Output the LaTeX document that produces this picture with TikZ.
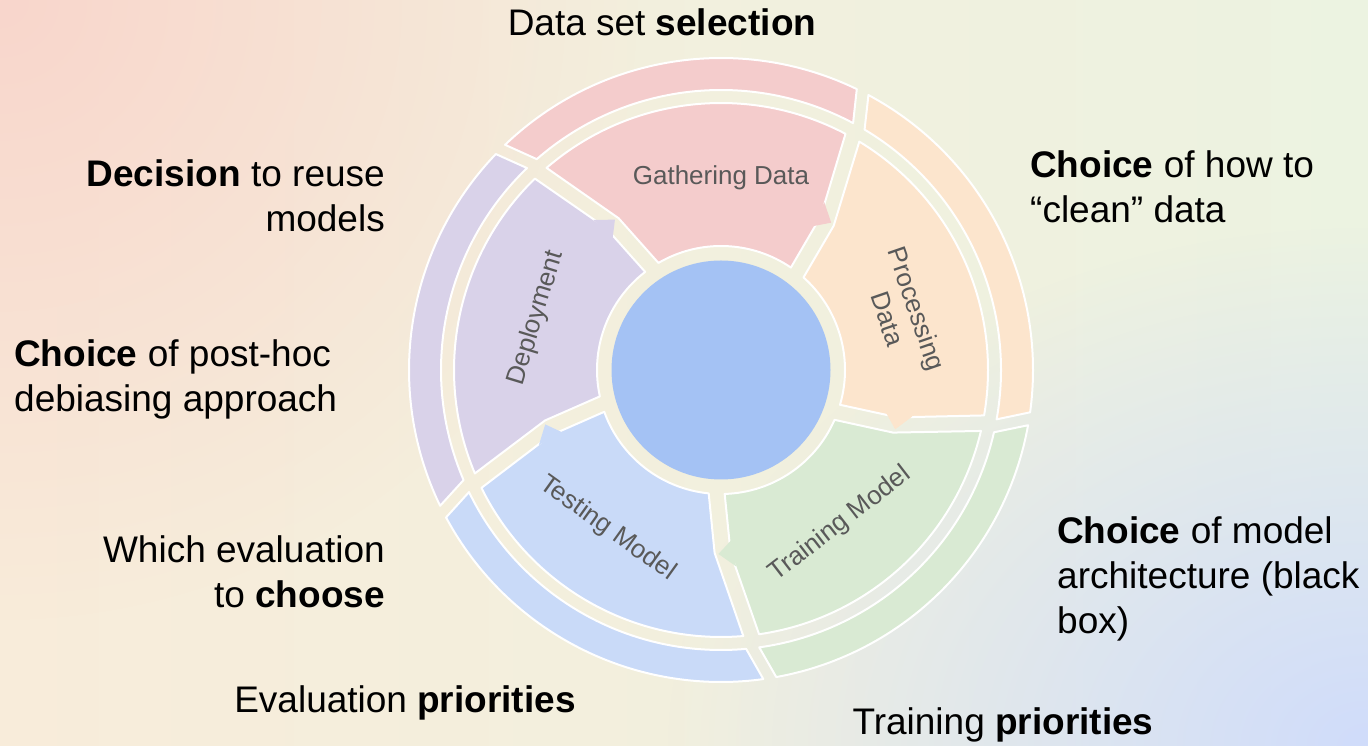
\documentclass[tikz,border=0pt]{standalone}
\usepackage{fontspec}
\setmainfont{Liberation Sans}
\usetikzlibrary{calc,fadings}

\definecolor{gatherC}{HTML}{F4CCCC}
\definecolor{processC}{HTML}{FCE5CD}
\definecolor{trainC}{HTML}{D9EAD3}
\definecolor{testC}{HTML}{C9DAF8}
\definecolor{deployC}{HTML}{D9D2E9}
\definecolor{hubC}{HTML}{A4C2F4}
\definecolor{labelC}{HTML}{595959}
% backdrop colours
\definecolor{bgL}{RGB}{248,236,218}
\definecolor{bgM}{RGB}{245,241,222}
\definecolor{bgR}{RGB}{236,243,225}
\definecolor{glowPink}{RGB}{249,214,204}
\definecolor{glowBlue}{RGB}{208,220,251}

\tikzfading[name=softglow, inner color=transparent!0, outer color=transparent!100]

% One stage of the cycle: inner wedge, arrow tab and outer band.
% #1 = angle of the gap at the clockwise end, #2 = fill colour
\newcommand{\cyclestage}[2]{%
  \pgfmathsetmacro{\ga}{#1}%
  \pgfmathsetmacro{\gb}{#1+72}%
  \fill[#2, draw=white, line width=2pt, line join=round]
    ({\gb-3.7}:124) arc[start angle={\gb-3.7}, end angle={\ga+3.7}, radius=124]
    -- ({\ga+5}:183) -- ({\ga+10.2}:267)
    arc[start angle={\ga+10.2}, end angle={\gb+6.8}, radius=267]
    -- ({\gb}:183) -- cycle;
  \fill[#2] ({\ga+5.3}:171) -- ({\ga+1.2}:184) -- ({\ga+6.4}:197) -- cycle;
  \fill[#2, draw=white, line width=2pt, line join=round]
    ({\gb+7.15}:280) arc[start angle={\gb+7.15}, end angle={\ga+9.85}, radius=280]
    -- ({\ga+12.2}:312)
    arc[start angle={\ga+12.2}, end angle={\gb+9.8}, radius=312] -- cycle;
}

\tikzset{
  stagelabel/.style={font=\fontsize{26}{31}\selectfont, text=labelC, inner sep=0pt, align=center},
  note/.style={font=\fontsize{37}{45}\selectfont, text=black, inner sep=0pt},
}

\begin{document}
\begin{tikzpicture}[x=1pt, y=1pt]
  \useasboundingbox (0,0) rectangle (1368,746);
  % soft backdrop: warm-to-green base with a pink and a blue corner glow
  \begin{scope}
    \clip (0,0) rectangle (1368,746);
    \shade[left color=bgL, middle color=bgM, right color=bgR] (0,0) rectangle (1368,746);
    \fill[glowPink, path fading=softglow] (0,746) ellipse[x radius=640, y radius=620];
    \fill[glowBlue, path fading=softglow] (1368,0) ellipse[x radius=700, y radius=520];
  \end{scope}

  \begin{scope}[shift={(721,376)}]
    \cyclestage{52}{gatherC}
    \cyclestage{-20}{processC}
    \cyclestage{-92}{trainC}
    \cyclestage{-164}{testC}
    \cyclestage{124}{deployC}
    \fill[hubC] (0,0) circle[radius=109.5];
    \node (hub) at (0,0) {};

    \node[stagelabel] (gather) at (90:192) {Gathering Data};
    \node[stagelabel, rotate=-71] (process) at (17.2:190) {Processing\\Data};
    \node[stagelabel, rotate=37.7] (train) at (-52.3:195) {Training Model};
    \node[stagelabel, rotate=-35.6] (test) at (-125.6:195) {Testing Model};
    \node[stagelabel, rotate=73] (deploy) at (164.3:192) {Deployment};
  \end{scope}

  \node[note, anchor=base] (selection) at (662,710) {Data set \textbf{selection}};
  \node[note, anchor=base west, align=left] (clean) at (1030,523) {\textbf{Choice} of how to\\“clean” data};
  \node[note, anchor=base east, align=right] (reuse) at (385,514) {\textbf{Decision} to reuse\\models};
  \node[note, anchor=base west, align=left] (posthoc) at (14,334) {\textbf{Choice} of post-hoc\\debiasing approach};
  \node[note, anchor=base east, align=right] (whicheval) at (385,138) {Which evaluation\\to \textbf{choose}};
  \node[note, anchor=base] (evalprio) at (405,33) {Evaluation \textbf{priorities}};
  \node[note, anchor=base west, align=left] (arch) at (1057,112) {\textbf{Choice} of model\\architecture (black\\box)};
  \node[note, anchor=base] (trainprio) at (1003,11) {Training \textbf{priorities}};
\end{tikzpicture}
\end{document}
